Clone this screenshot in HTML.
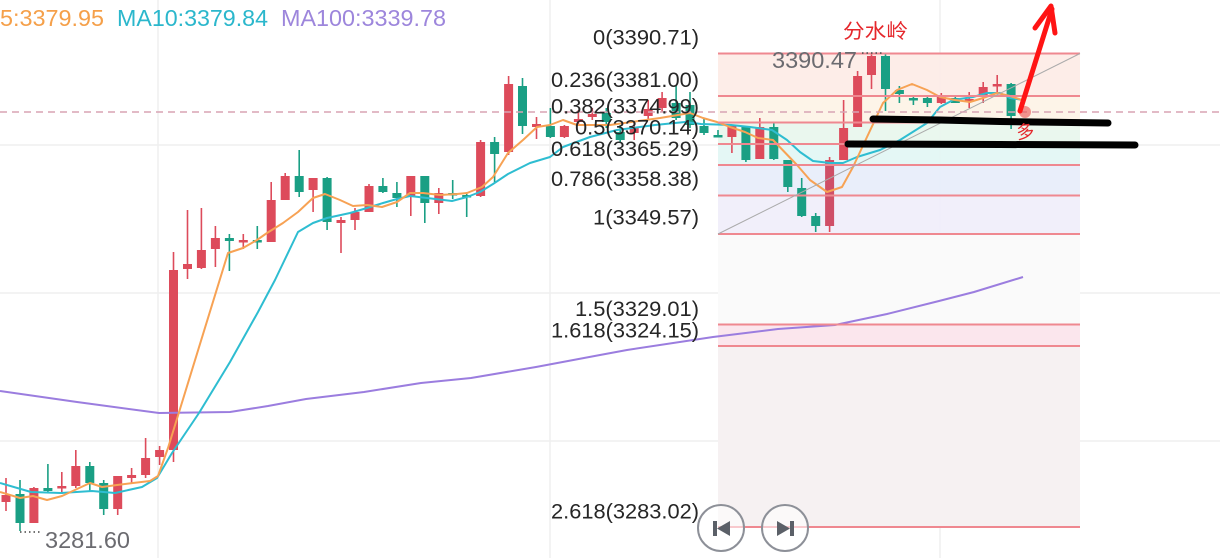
<!DOCTYPE html>
<html><head><meta charset="utf-8"><style>
html,body{margin:0;padding:0;background:#fff;width:1220px;height:558px;overflow:hidden}
svg{display:block}
.r{fill:#dd4b5b}.g{fill:#1a9f84}
.rw{stroke:#dd4b5b;stroke-width:1.6}.gw{stroke:#1a9f84;stroke-width:1.6}
.lbl{font-family:"Liberation Sans",sans-serif;font-size:21px;fill:#262626}
</style></head><body>
<svg width="1220" height="558" viewBox="0 0 1220 558" xmlns="http://www.w3.org/2000/svg">
<!-- grid -->
<g stroke="#efefef" stroke-width="1.5">
<line x1="0" y1="145" x2="1220" y2="145"/><line x1="0" y1="293" x2="1220" y2="293"/><line x1="0" y1="441" x2="1220" y2="441"/>
<line x1="158" y1="0" x2="158" y2="558"/><line x1="550" y1="0" x2="550" y2="558"/><line x1="940" y1="0" x2="940" y2="558"/>
</g>
<!-- fib fills -->
<g>
<rect x="718" y="53.5" width="362" height="42.5" fill="#fdebe5" opacity="0.9"/>
<rect x="718" y="96" width="362" height="26.5" fill="#fdf3e5" opacity="0.9"/>
<rect x="718" y="122.5" width="362" height="21.5" fill="#e8f6ec" opacity="0.9"/>
<rect x="718" y="144" width="362" height="21" fill="#e1f6f4" opacity="0.9"/>
<rect x="718" y="165" width="362" height="30.5" fill="#e7ecf9" opacity="0.9"/>
<rect x="718" y="195.5" width="362" height="38.7" fill="#efedf9" opacity="0.9"/>
<rect x="718" y="234.2" width="362" height="90.3" fill="#fafafa" opacity="0.9"/>
<rect x="718" y="324.5" width="362" height="21.5" fill="#fbe5ec" opacity="0.95"/>
<rect x="718" y="346" width="362" height="181" fill="#f6f0f1" opacity="0.95"/>
</g>
<!-- candles wicks -->
<g class="rw">
<line x1="6" y1="478" x2="6" y2="511"/><line x1="33.9" y1="487" x2="33.9" y2="523"/><line x1="61.8" y1="472" x2="61.8" y2="494"/><line x1="75.8" y1="450" x2="75.8" y2="488"/><line x1="117.7" y1="476" x2="117.7" y2="515"/><line x1="131.6" y1="468" x2="131.6" y2="483"/><line x1="145.6" y1="438" x2="145.6" y2="478"/><line x1="159.6" y1="446" x2="159.6" y2="465"/><line x1="173.5" y1="252" x2="173.5" y2="462"/><line x1="187.5" y1="210" x2="187.5" y2="279"/><line x1="201.4" y1="208" x2="201.4" y2="269"/><line x1="215.4" y1="226" x2="215.4" y2="267"/><line x1="243.3" y1="234" x2="243.3" y2="249"/><line x1="271.2" y1="182" x2="271.2" y2="242"/><line x1="285.2" y1="173" x2="285.2" y2="200"/><line x1="313.1" y1="178" x2="313.1" y2="212"/><line x1="341" y1="217" x2="341" y2="253"/><line x1="355" y1="208" x2="355" y2="230"/><line x1="369" y1="184" x2="369" y2="212"/><line x1="410.8" y1="176" x2="410.8" y2="216"/><line x1="438.8" y1="188" x2="438.8" y2="214"/><line x1="480.6" y1="140" x2="480.6" y2="197"/><line x1="508.6" y1="76" x2="508.6" y2="155"/><line x1="536.5" y1="117" x2="536.5" y2="139"/><line x1="564.4" y1="125" x2="564.4" y2="138"/><line x1="578.4" y1="110" x2="578.4" y2="125"/><line x1="592.3" y1="108" x2="592.3" y2="120"/><line x1="634.2" y1="122" x2="634.2" y2="140"/><line x1="648.2" y1="100" x2="648.2" y2="120"/><line x1="662.1" y1="92" x2="662.1" y2="112"/><line x1="731.9" y1="125" x2="731.9" y2="153"/><line x1="759.8" y1="118" x2="759.8" y2="159"/><line x1="829.6" y1="157" x2="829.6" y2="232"/><line x1="843.6" y1="100" x2="843.6" y2="160"/><line x1="857.6" y1="71" x2="857.6" y2="127"/><line x1="871.5" y1="53" x2="871.5" y2="89"/><line x1="941.3" y1="93" x2="941.3" y2="104"/><line x1="969.2" y1="92" x2="969.2" y2="108"/><line x1="983.2" y1="82" x2="983.2" y2="103"/><line x1="997.2" y1="75" x2="997.2" y2="92"/>
</g>
<g class="gw">
<line x1="20" y1="480" x2="20" y2="531"/><line x1="47.9" y1="464" x2="47.9" y2="492"/><line x1="89.8" y1="462" x2="89.8" y2="491"/><line x1="103.7" y1="480" x2="103.7" y2="515"/><line x1="229.4" y1="234" x2="229.4" y2="271"/><line x1="257.3" y1="226" x2="257.3" y2="249"/><line x1="299.2" y1="150" x2="299.2" y2="197"/><line x1="327.1" y1="177" x2="327.1" y2="230"/><line x1="382.9" y1="178" x2="382.9" y2="193"/><line x1="396.9" y1="182" x2="396.9" y2="207"/><line x1="424.8" y1="176" x2="424.8" y2="223"/><line x1="452.7" y1="180" x2="452.7" y2="199"/><line x1="466.7" y1="192" x2="466.7" y2="217"/><line x1="494.6" y1="137" x2="494.6" y2="182"/><line x1="522.5" y1="78" x2="522.5" y2="134"/><line x1="550.4" y1="108" x2="550.4" y2="138"/><line x1="606.3" y1="108" x2="606.3" y2="128"/><line x1="620.2" y1="125" x2="620.2" y2="142"/><line x1="676.1" y1="86" x2="676.1" y2="120"/><line x1="690" y1="92" x2="690" y2="128"/><line x1="704" y1="118" x2="704" y2="135"/><line x1="718" y1="130" x2="718" y2="137"/><line x1="745.9" y1="126" x2="745.9" y2="162"/><line x1="773.8" y1="123" x2="773.8" y2="160"/><line x1="787.8" y1="160" x2="787.8" y2="192"/><line x1="801.7" y1="178" x2="801.7" y2="217"/><line x1="815.7" y1="213" x2="815.7" y2="232"/><line x1="885.5" y1="53" x2="885.5" y2="111"/><line x1="899.4" y1="86" x2="899.4" y2="103"/><line x1="913.4" y1="95" x2="913.4" y2="105"/><line x1="927.4" y1="95" x2="927.4" y2="107"/><line x1="955.3" y1="97" x2="955.3" y2="103"/><line x1="1011.1" y1="83" x2="1011.1" y2="129"/>
</g>
<!-- bodies -->
<g class="r">
<rect x="1.5" y="495" width="9" height="7"/><rect x="29.4" y="488" width="9" height="35"/><rect x="57.3" y="486" width="9" height="2.5"/><rect x="71.3" y="466" width="9" height="20"/><rect x="113.2" y="476" width="9" height="33"/><rect x="127.1" y="475" width="9" height="3"/><rect x="141.1" y="458" width="9" height="17"/><rect x="155.1" y="450" width="9" height="7"/><rect x="169" y="270" width="9" height="180"/><rect x="183" y="264" width="9" height="5"/><rect x="196.9" y="250" width="9" height="18"/><rect x="210.9" y="238" width="9" height="11"/><rect x="238.8" y="240" width="9" height="2.5"/><rect x="266.7" y="200" width="9" height="42"/><rect x="280.7" y="176" width="9" height="24"/><rect x="308.6" y="178" width="9" height="12"/><rect x="336.5" y="220" width="9" height="3"/><rect x="350.5" y="212" width="9" height="8"/><rect x="364.5" y="186" width="9" height="26"/><rect x="406.3" y="176" width="9" height="21"/><rect x="434.3" y="193" width="9" height="10"/><rect x="476.1" y="142" width="9" height="54"/><rect x="504.1" y="84" width="9" height="68"/><rect x="532" y="124" width="9" height="3"/><rect x="559.9" y="126" width="9" height="11"/><rect x="573.9" y="119" width="9" height="3"/><rect x="587.8" y="114" width="9" height="3"/><rect x="629.7" y="127" width="9" height="6"/><rect x="643.7" y="109" width="9" height="7"/><rect x="657.6" y="98" width="9" height="10"/><rect x="727.4" y="126" width="9" height="11"/><rect x="755.3" y="127" width="9" height="32"/><rect x="825.1" y="160" width="9" height="66" fill="#cf4f67"/><rect x="839.1" y="128" width="9" height="32"/><rect x="853.1" y="76" width="9" height="51"/><rect x="867" y="56" width="9" height="19"/><rect x="936.8" y="96" width="9" height="7"/><rect x="964.7" y="99" width="9" height="2.5"/><rect x="978.7" y="87" width="9" height="10"/><rect x="992.7" y="84" width="9" height="2.5"/>
</g>
<g class="g">
<rect x="15.5" y="494" width="9" height="29"/><rect x="43.4" y="488" width="9" height="3"/><rect x="85.3" y="466" width="9" height="17"/><rect x="99.2" y="483" width="9" height="26"/><rect x="224.9" y="238" width="9" height="3"/><rect x="252.8" y="240" width="9" height="2.5"/><rect x="294.7" y="176" width="9" height="16"/><rect x="322.6" y="178" width="9" height="44"/><rect x="378.4" y="186" width="9" height="6"/><rect x="392.4" y="193" width="9" height="5"/><rect x="420.3" y="176" width="9" height="27"/><rect x="448.2" y="193" width="9" height="2.5"/><rect x="462.2" y="195" width="9" height="2.5"/><rect x="490.1" y="142" width="9" height="12"/><rect x="518" y="86" width="9" height="40"/><rect x="545.9" y="126" width="9" height="11"/><rect x="601.8" y="113" width="9" height="9"/><rect x="615.7" y="132" width="9" height="8"/><rect x="671.6" y="103" width="9" height="15"/><rect x="685.5" y="105" width="9" height="20"/><rect x="699.5" y="126" width="9" height="7"/><rect x="713.5" y="135" width="9" height="2.5"/><rect x="741.4" y="126" width="9" height="34"/><rect x="769.3" y="127" width="9" height="32"/><rect x="783.3" y="160" width="9" height="27"/><rect x="797.2" y="188" width="9" height="28"/><rect x="811.2" y="216" width="9" height="10"/><rect x="881" y="56" width="9" height="33"/><rect x="894.9" y="90" width="9" height="4"/><rect x="908.9" y="98" width="9" height="2.5"/><rect x="922.9" y="98" width="9" height="5"/><rect x="950.8" y="98" width="9" height="5"/><rect x="1006.6" y="84" width="9" height="32"/>
</g>
<!-- MA lines -->
<polyline fill="none" stroke="#9b7ddf" stroke-width="2" points="0,391 77,402 159,413 230,412 268,406 306,399 364,392 421,383 471,378 536,367 600,355 627,350 713,337 778,329 835,325 887,314 939,301 974,292 1023,277"/>
<polyline fill="none" stroke="#2ebdd1" stroke-width="2" stroke-linejoin="round" points="0,483 31,492 61,493 92,491 115,493 142,487 157,478 172,453 199,413 230,362 258,312 275,280 298,232 313,223 327,218 350,213 367,208 383,203 397,199 410,196 427,198 452,201 467,197 480,192 493,184 508,174 530,163 550,157 563,147 590,137 617,130 655,125 685,122 701,124 731,125 750,127 772,130 787,140 800,152 813,161 830,163 843,163 857,157 880,150 900,140 927,123 940,107 953,100 973,97 987,93 1000,93 1010,98 1023,100"/>
<polyline fill="none" stroke="#f7a254" stroke-width="2" stroke-linejoin="round" points="0,492 20,498 33,496 47,500 62,496 77,489 90,483 102,487 117,485 133,483 150,481 158,476 168,448 228,253 243,248 257,240 267,233 283,223 298,212 313,198 325,194 340,200 353,206 367,205 382,207 397,202 410,193 423,193 440,195 457,194 467,193 482,187 493,177 508,153 523,140 537,127 550,125 563,120 577,125 610,125 660,118 690,113 703,118 717,122 730,127 745,132 758,138 773,140 797,165 810,180 827,192 842,187 853,167 867,137 883,103 897,90 912,84 927,90 940,97 955,100 970,102 983,98 997,93 1010,96 1022,100"/>
<!-- fib lines -->
<g stroke="#ef8890" stroke-width="2">
<line x1="718" y1="53.5" x2="1080" y2="53.5"/><line x1="718" y1="96" x2="1080" y2="96"/><line x1="718" y1="122.5" x2="1080" y2="122.5"/><line x1="718" y1="144" x2="1080" y2="144"/><line x1="718" y1="165" x2="1080" y2="165"/><line x1="718" y1="195.5" x2="1080" y2="195.5"/><line x1="718" y1="234" x2="1080" y2="234"/><line x1="718" y1="324.5" x2="1080" y2="324.5"/><line x1="718" y1="346" x2="1080" y2="346"/><line x1="718" y1="527" x2="1080" y2="527"/>
</g>
<line x1="718" y1="234" x2="1080" y2="53.5" stroke="#aaaaaa" stroke-width="1"/>
<!-- dashed price line -->
<line x1="0" y1="112" x2="1220" y2="112" stroke="#d8a4b4" stroke-width="1.5" stroke-dasharray="7 5"/>
<!-- fib labels -->
<g class="lbl" text-anchor="end">
<text x="699" y="44.5" textLength="106" lengthAdjust="spacingAndGlyphs">0(3390.71)</text>
<text x="699" y="87" textLength="148" lengthAdjust="spacingAndGlyphs">0.236(3381.00)</text>
<text x="699" y="113.5" textLength="148" lengthAdjust="spacingAndGlyphs">0.382(3374.99)</text>
<text x="699" y="134.5" textLength="124" lengthAdjust="spacingAndGlyphs">0.5(3370.14)</text>
<text x="699" y="156" textLength="148" lengthAdjust="spacingAndGlyphs">0.618(3365.29)</text>
<text x="699" y="186" textLength="148" lengthAdjust="spacingAndGlyphs">0.786(3358.38)</text>
<text x="699" y="224.5" textLength="106" lengthAdjust="spacingAndGlyphs">1(3349.57)</text>
<text x="699" y="316" textLength="124" lengthAdjust="spacingAndGlyphs">1.5(3329.01)</text>
<text x="699" y="337.5" textLength="148" lengthAdjust="spacingAndGlyphs">1.618(3324.15)</text>
<text x="699" y="518.5" textLength="148" lengthAdjust="spacingAndGlyphs">2.618(3283.02)</text>
</g>
<!-- legend -->
<g font-family="Liberation Sans, sans-serif" font-size="23">
<text x="0" y="26" fill="#f5a04a" textLength="104" lengthAdjust="spacingAndGlyphs">5:3379.95</text>
<text x="117" y="26" fill="#2bb7cc" textLength="151" lengthAdjust="spacingAndGlyphs">MA10:3379.84</text>
<text x="281" y="26" fill="#9d86dc" textLength="165" lengthAdjust="spacingAndGlyphs">MA100:3339.78</text>
</g>
<!-- high/low labels -->
<g font-family="Liberation Sans, sans-serif" font-size="23" fill="#6b6b70">
<text x="772" y="68" textLength="85" lengthAdjust="spacingAndGlyphs">3390.47</text>
<text x="45" y="548" textLength="85" lengthAdjust="spacingAndGlyphs">3281.60</text>
</g>
<line x1="862" y1="53" x2="884" y2="53" stroke="#444" stroke-width="1.5" stroke-dasharray="1.5 3"/>
<line x1="20" y1="532" x2="41" y2="532" stroke="#444" stroke-width="1.5" stroke-dasharray="1.5 3"/>
<!-- annotations -->
<text x="843" y="38" font-family="Liberation Sans, 'Noto Sans CJK SC', sans-serif" font-size="20" fill="#e5262b" textLength="65" lengthAdjust="spacingAndGlyphs">分水岭</text>
<path d="M873,119 L940,120 L1000,121.5 L1108,123" stroke="#000" stroke-width="7" stroke-linecap="round" fill="none"/>
<path d="M848,144 L1000,144.5 L1135,145" stroke="#000" stroke-width="7" stroke-linecap="round" fill="none"/>
<circle cx="1025" cy="112" r="6" fill="rgba(235,80,80,0.6)"/>
<path d="M1020,111 L1052,9" stroke="#ff1414" stroke-width="5" stroke-linecap="round" fill="none"/>
<path d="M1035,28 L1051,6 L1055,33" stroke="#ff1414" stroke-width="5" stroke-linecap="round" stroke-linejoin="round" fill="none"/>
<text x="1016" y="138" font-family="Liberation Sans, 'Noto Sans CJK SC', sans-serif" font-size="18" fill="#e5262b" transform="rotate(-8 1025 130)">多</text>
<!-- buttons -->
<g stroke="#8d9098" stroke-width="2" fill="rgba(255,255,255,0.55)">
<circle cx="721" cy="528" r="23"/><circle cx="785" cy="528" r="23"/>
</g>
<g fill="#5b6068">
<rect x="713" y="521" width="4" height="15"/><polygon points="730,521 730,536 717,528.5"/>
<polygon points="777,521 777,536 790,528.5"/><rect x="790" y="521" width="4" height="15"/>
</g>
</svg>
</body></html>
